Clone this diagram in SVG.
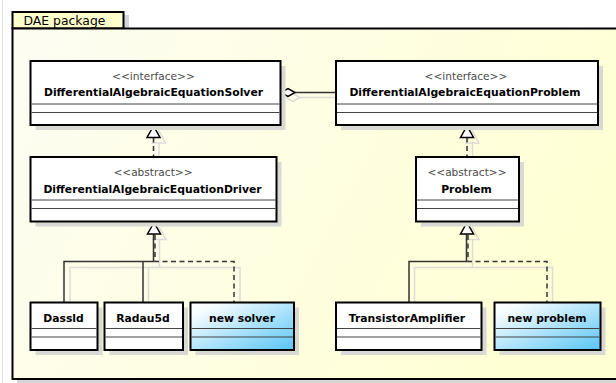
<svg xmlns="http://www.w3.org/2000/svg" width="616" height="383" viewBox="0 0 616 383">
  <defs>
    <linearGradient id="pkgFill" x1="0" y1="0" x2="1" y2="0.3">
      <stop offset="0" stop-color="#fdfdf3"/>
      <stop offset="1" stop-color="#ffffd4"/>
    </linearGradient>
    <linearGradient id="newFill" x1="0" y1="0" x2="1" y2="1">
      <stop offset="0" stop-color="#ffffff"/>
      <stop offset="0.15" stop-color="#f6fcff"/>
      <stop offset="1" stop-color="#58c5f6"/>
    </linearGradient>
    <style>
      .box { fill: #ffffff; stroke: #000000; stroke-width: 2; }
      .box.new { fill: url(#newFill); }
      .shadow { fill: #d9d9d4; }
      .sep { stroke: #444444; stroke-width: 1; }
      .stereo { font-family: "DejaVu Sans", "Liberation Sans", sans-serif; font-size: 10.6px; fill: #4a4a4a; text-anchor: middle; }
      .name { font-family: "DejaVu Sans", "Liberation Sans", sans-serif; font-size: 10.8px; font-weight: bold; fill: #000000; text-anchor: middle; }
      .pkglabel { font-family: "DejaVu Sans", "Liberation Sans", sans-serif; font-size: 12.4px; fill: #000000; }
      .line { fill: none; stroke: #333333; stroke-width: 1.5; }
      .dash { fill: none; stroke: #333333; stroke-width: 1.5; stroke-dasharray: 5 3.5; }
      .lshadow { fill: none; stroke: #dcdcd8; stroke-width: 1.5; }
      .head { fill: #ffffff; stroke: #000000; stroke-width: 1.5; stroke-linejoin: miter; }
      .headshadow { fill: none; stroke: #dcdcd8; stroke-width: 1.5; }
    </style>
  </defs>

  <!-- outer frame edge -->
  <line x1="2.5" y1="0" x2="2.5" y2="383" stroke="#e2e2e2" stroke-width="1"/>

  <!-- package -->
  <g id="dae-package">
    <rect x="17" y="33" width="610" height="351" fill="#d6d6d6"/>
    <rect x="124" y="15" width="5" height="13" fill="#d6d6d6"/>
    <rect x="12.5" y="12" width="111" height="16.5" fill="#ffffcc" stroke="#000000" stroke-width="2"/>
    <rect x="12.5" y="28.5" width="620" height="350.5" fill="url(#pkgFill)" stroke="#000000" stroke-width="2"/>
    <text class="pkglabel" x="23.5" y="25">DAE package</text>
  </g>

  <!-- connectors -->
  <g id="connectors">
    <!-- shadows -->
    <path class="lshadow" d="M300 97.5 H336"/>
    <polygon class="headshadow" points="286,97.5 293,93.5 300,97.5 293,101.5"/>
    <path class="lshadow" d="M159 143 V162"/>
    <polygon class="headshadow" points="159,131 152.5,143 165.5,143"/>
    <path class="lshadow" d="M472.5 143 V162"/>
    <polygon class="headshadow" points="472.5,131 466,143 479,143"/>
    <polygon class="headshadow" points="159.5,228 153,239.5 166,239.5"/>
    <path class="lshadow" d="M159.5 239.5 V267.5 M70 302 V267.5 H240 V302 M148.5 267.5 V302"/>
    <polygon class="headshadow" points="472.5,228 466,239.5 479,239.5"/>
    <path class="lshadow" d="M472.5 239.5 V267.5 M414.5 302 V267.5 H552.5 V302"/>

    <!-- aggregation: solver to problem -->
    <path class="line" d="M295 92.5 H336"/>
    <polygon class="head" points="281,92.5 288,88.5 295,92.5 288,96.5"/>

    <!-- driver realizes solver -->
    <path class="dash" d="M153.5 137.5 V157"/>
    <polygon class="head" points="153.5,126 147,137.5 160,137.5"/>

    <!-- problem realizes problem interface -->
    <path class="dash" d="M467 137.5 V157"/>
    <polygon class="head" points="467,126 460.5,137.5 473.5,137.5"/>

    <!-- Dassl / Radau5 extend driver, new solver realizes it -->
    <path class="line" d="M64 302 V261.5 H153.5 V234 M143 302 V261.5"/>
    <path class="dash" d="M155 235 V261.5 H234 V302"/>
    <polygon class="head" points="154,222.5 147.5,234 160.5,234"/>

    <!-- TransistorAmplifier extends Problem, new problem realizes it -->
    <path class="line" d="M409 302 V261.5 H466.5 V234"/>
    <path class="dash" d="M468 235 V261.5 H547 V302"/>
    <polygon class="head" points="467,222.5 460.5,234 473.5,234"/>
  </g>

  <!-- class nodes -->
  <g id="dae-solver">
    <rect class="shadow" x="35.5" y="66" width="250" height="64"/>
    <rect class="box" x="30.5" y="61" width="250" height="64"/>
    <line class="sep" x1="31.5" y1="104" x2="279.5" y2="104"/>
    <line class="sep" x1="31.5" y1="112.5" x2="279.5" y2="112.5"/>
    <text class="stereo" x="153.5" y="79.5">&lt;&lt;interface&gt;&gt;</text>
    <text class="name" x="153.5" y="96">DifferentialAlgebraicEquationSolver</text>
  </g>

  <g id="dae-problem">
    <rect class="shadow" x="341" y="66" width="262" height="64"/>
    <rect class="box" x="336" y="61" width="262" height="64"/>
    <line class="sep" x1="337" y1="104" x2="597" y2="104"/>
    <line class="sep" x1="337" y1="112.5" x2="597" y2="112.5"/>
    <text class="stereo" x="466" y="79.5">&lt;&lt;interface&gt;&gt;</text>
    <text class="name" x="465" y="96">DifferentialAlgebraicEquationProblem</text>
  </g>

  <g id="dae-driver">
    <rect class="shadow" x="35.5" y="162" width="246" height="64.5"/>
    <rect class="box" x="30.5" y="157" width="246" height="64.5"/>
    <line class="sep" x1="31.5" y1="200" x2="275.5" y2="200"/>
    <line class="sep" x1="31.5" y1="208.5" x2="275.5" y2="208.5"/>
    <text class="stereo" x="153" y="175.5">&lt;&lt;abstract&gt;&gt;</text>
    <text class="name" x="152.5" y="192.5">DifferentialAlgebraicEquationDriver</text>
  </g>

  <g id="problem">
    <rect class="shadow" x="421" y="162" width="103" height="64.5"/>
    <rect class="box" x="416" y="157" width="103" height="64.5"/>
    <line class="sep" x1="417" y1="200" x2="518" y2="200"/>
    <line class="sep" x1="417" y1="208.5" x2="518" y2="208.5"/>
    <text class="stereo" x="467" y="175.5">&lt;&lt;abstract&gt;&gt;</text>
    <text class="name" x="466.5" y="192.5">Problem</text>
  </g>

  <g id="dassl">
    <rect class="shadow" x="35.5" y="307.5" width="67" height="47.5"/>
    <rect class="box" x="30.5" y="302.5" width="67" height="47.5"/>
    <line class="sep" x1="31.5" y1="328.5" x2="96.5" y2="328.5"/>
    <line class="sep" x1="31.5" y1="337" x2="96.5" y2="337"/>
    <text class="name" x="63.5" y="321.5">Dassld</text>
  </g>

  <g id="radau5">
    <rect class="shadow" x="109.5" y="307.5" width="78.5" height="47.5"/>
    <rect class="box" x="104.5" y="302.5" width="78.5" height="47.5"/>
    <line class="sep" x1="105.5" y1="328.5" x2="182" y2="328.5"/>
    <line class="sep" x1="105.5" y1="337" x2="182" y2="337"/>
    <text class="name" x="143" y="321.5">Radau5d</text>
  </g>

  <g id="new-solver">
    <rect class="shadow" x="195.5" y="307.5" width="103.5" height="47.5"/>
    <rect class="box new" x="190.5" y="302.5" width="103.5" height="47.5"/>
    <line class="sep" x1="191.5" y1="328.5" x2="293" y2="328.5"/>
    <line class="sep" x1="191.5" y1="337" x2="293" y2="337"/>
    <text class="name" x="242" y="321.5">new solver</text>
  </g>

  <g id="transistor-amplifier">
    <rect class="shadow" x="341" y="307.5" width="145.5" height="47.5"/>
    <rect class="box" x="336" y="302.5" width="145.5" height="47.5"/>
    <line class="sep" x1="337" y1="328.5" x2="480.5" y2="328.5"/>
    <line class="sep" x1="337" y1="337" x2="480.5" y2="337"/>
    <text class="name" x="407" y="321.5">TransistorAmplifier</text>
  </g>

  <g id="new-problem">
    <rect class="shadow" x="499.5" y="307.5" width="106" height="47.5"/>
    <rect class="box new" x="494.5" y="302.5" width="106" height="47.5"/>
    <line class="sep" x1="495.5" y1="328.5" x2="599.5" y2="328.5"/>
    <line class="sep" x1="495.5" y1="337" x2="599.5" y2="337"/>
    <text class="name" x="547" y="321.5">new problem</text>
  </g>
</svg>
